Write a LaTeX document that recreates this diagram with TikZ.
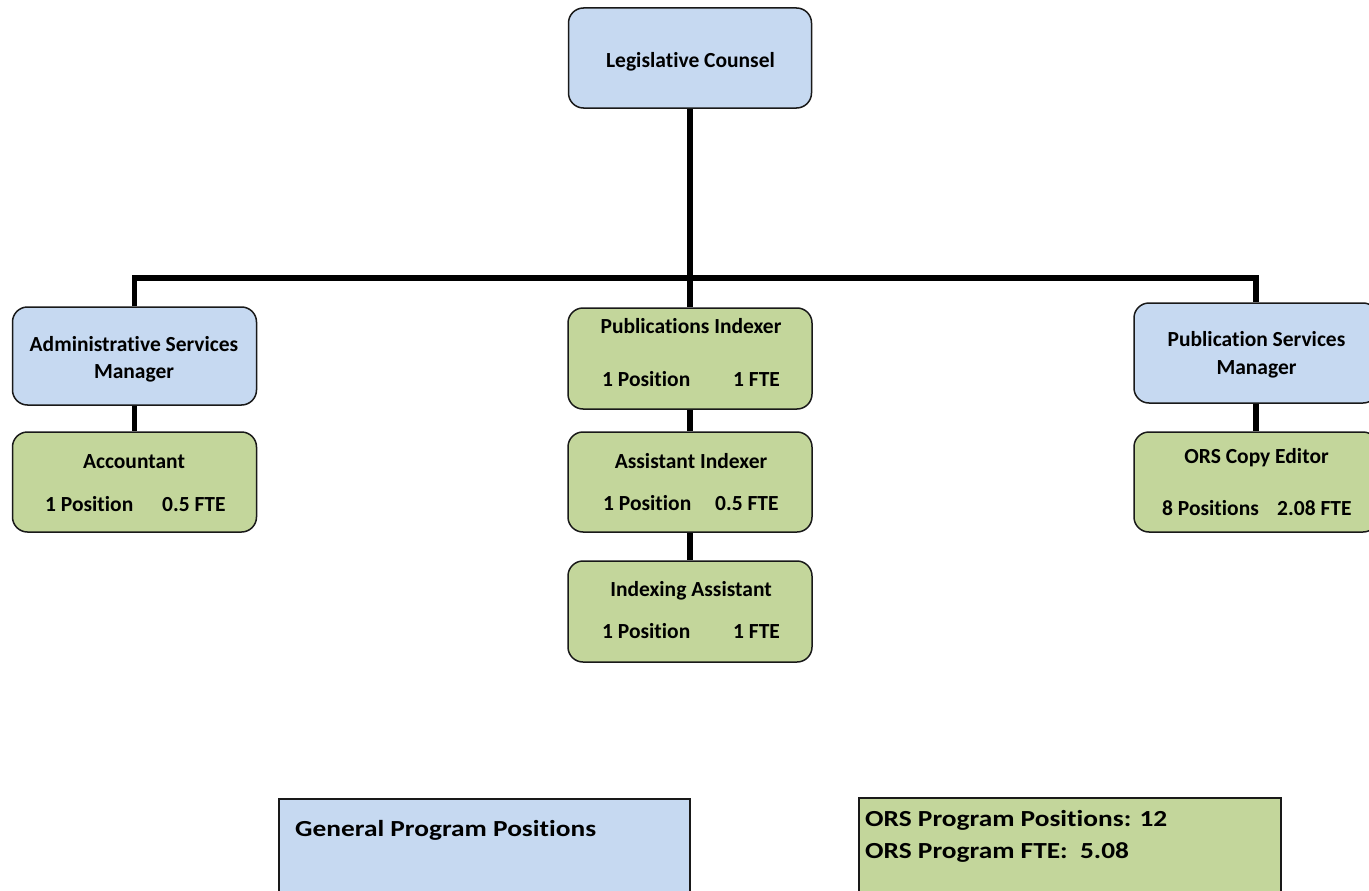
\documentclass[tikz,border=0pt]{standalone}
\usepackage{fontspec}
\setmainfont{Carlito}[Ligatures={NoCommon}]
\definecolor{boxblue}{HTML}{C6D9F1}
\definecolor{boxgreen}{HTML}{C3D69B}
\begin{document}
\begin{tikzpicture}[x=1pt,y=-1pt,
  box/.style={draw=black!90, line width=1.5pt, rounded corners=15pt, minimum width=244pt, minimum height=100pt, inner sep=0pt, anchor=center},
  bluebox/.style={box, fill=boxblue},
  greenbox/.style={box, fill=boxgreen},
  sumbox/.style={draw=black!90, line width=1.5pt, inner sep=0pt, anchor=center, minimum height=152pt},
  lbl/.style={font=\fontsize{21.5}{25}\selectfont\bfseries, inner sep=0pt, anchor=base},
  lblw/.style={lbl, anchor=base west},
  biglbl/.style={font=\fontsize{23}{27}\selectfont\bfseries, inner sep=0pt, anchor=base west},
  bus/.style={line width=5.5pt, draw=black}]
\useasboundingbox (0,0) rectangle (1369,891);
\fill[white] (0,0) rectangle (1369,891);

% boxes
\node[bluebox, minimum width=243pt] (LC) at (690,58) {};
\node[bluebox, minimum height=98pt] (ASM) at (134.5,356) {};
\node[greenbox] (ACC) at (134.5,482) {};
\node[greenbox, minimum height=101pt] (PI) at (690,358.5) {};
\node[greenbox] (AI) at (690,482) {};
\node[greenbox, minimum height=101pt] (IA) at (690,611.5) {};
\node[bluebox] (PSM) at (1256,353) {};
\node[greenbox] (ORS) at (1256,482) {};

% connectors
\coordinate (hb) at (690,278);
\draw[bus] (LC.south) -- (PI.north);
\draw[bus] (ASM.north) |- (hb) -| (PSM.north);
\draw[bus] (ASM.south) -- (ACC.north);
\draw[bus] (PI.south) -- (AI.north);
\draw[bus] (AI.south) -- (IA.north);
\draw[bus] (PSM.south) -- (ORS.north);

% labels
\node[lbl] (tLC) at (690.5,67) {Legislative Counsel};
\node[lbl] (tASM1) at (134,351.5) {Administrative Services};
\node[lbl] (tASM2) at (134,378.5) {Manager};
\node[lbl] (tACC) at (134,468) {Accountant};
\node[lblw] (tACCp) at (45,511.5) {1 Position};
\node[lblw] (tACCf) at (162,511.5) {0.5 FTE};
\node[lbl] (tPI) at (691,333) {Publications Indexer};
\node[lblw] (tPIp) at (602,386) {1 Position};
\node[lblw] (tPIf) at (733,386) {1 FTE};
\node[lbl] (tAI) at (691,468) {Assistant Indexer};
\node[lblw] (tAIp) at (603,510.5) {1 Position};
\node[lblw] (tAIf) at (715,510.5) {0.5 FTE};
\node[lbl] (tIA) at (691,596.5) {Indexing Assistant};
\node[lblw] (tIAp) at (602,638.5) {1 Position};
\node[lblw] (tIAf) at (733,638.5) {1 FTE};
\node[lbl] (tPSM1) at (1256.5,346.5) {Publication Services};
\node[lbl] (tPSM2) at (1256.5,374) {Manager};
\node[lbl] (tORS) at (1256.5,463.5) {ORS Copy Editor};
\node[lblw] (tORSp) at (1162,515) {8 Positions};
\node[lblw] (tORSf) at (1277,515) {2.08 FTE};

% summary boxes
\node[sumbox, fill=boxblue, minimum width=411pt] (GEN) at (484.5,875) {};
\node[sumbox, fill=boxgreen, minimum width=422pt] (SUM) at (1070,874) {};
\node[biglbl] (tGEN) at (295,836.5) {\scalebox{1.19}[1]{General Program Positions}};
\node[biglbl] (tSUM1) at (865,826.5) {\scalebox{1.19}[1]{ORS Program Positions: 12}};
\node[biglbl] (tSUM2) at (865,858.5) {\scalebox{1.19}[1]{ORS Program FTE:\ \ 5.08}};
\end{tikzpicture}
\end{document}
